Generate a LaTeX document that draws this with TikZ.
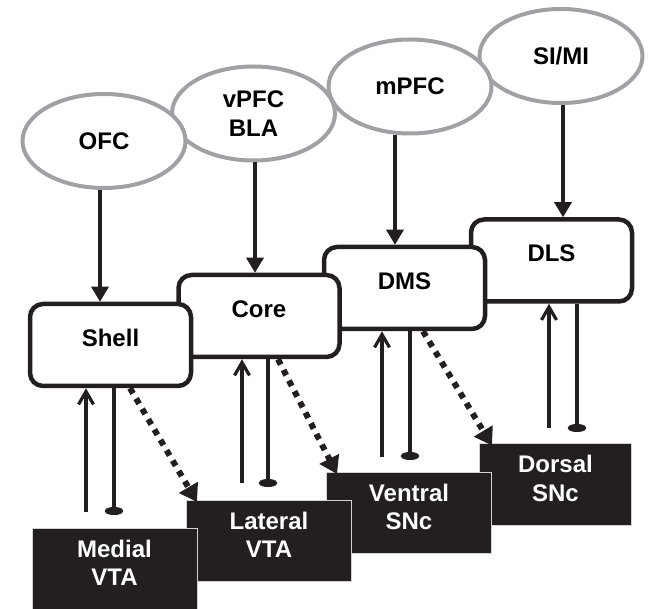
\documentclass[tikz,border=0pt]{standalone}
\usepackage{fontspec}
\setmainfont{Liberation Sans}
\usetikzlibrary{arrows.meta,shapes.geometric}
\definecolor{ovalgray}{RGB}{160,161,164}
\definecolor{nucleus}{RGB}{35,31,32}

\begin{document}
\begin{tikzpicture}[x=1pt,y=-1pt,
  font=\fontsize{24}{28.5}\selectfont\bfseries,
  cortex/.style={ellipse, draw=ovalgray, line width=4pt, fill=white,
    minimum width=163pt, minimum height=94pt, inner sep=0pt, align=center},
  striatum/.style={rectangle, rounded corners=13pt, draw=nucleus, line width=4.5pt,
    fill=white, minimum width=161pt, minimum height=82pt, text depth=14pt},
  midbrain/.style={rectangle, draw=gray!35, line width=1pt, fill=nucleus,
    text=white, minimum width=165pt, minimum height=81pt, align=center, text depth=12pt},
  drive/.style={-{Triangle[width=17pt,length=15pt]}, line width=3.2pt, draw=nucleus},
  feedback/.style={-{Straight Barb[width=15pt,length=13pt]}, line width=3.2pt, draw=nucleus},
  inhib/.style={-{Ellipse[width=18pt,length=8pt]}, line width=3.2pt, draw=nucleus},
  spiral/.style={-{Triangle[width=21pt,length=17pt]}, line width=6pt, draw=nucleus,
    dash pattern=on 6pt off 6pt}]
\useasboundingbox (0,0) rectangle (651,609);

% Cortex
\node[cortex] (simi) at (561,56) {SI/MI};
\node[cortex] (mpfc) at (410,86.5) {mPFC};
\node[cortex] (vpfc) at (253.5,113.5) {vPFC\\BLA};
\node[cortex] (ofc) at (104,141) {OFC};

% Striatum
\node[striatum] (dls) at (551.5,260.5) {DLS};
\node[striatum] (dms) at (404.5,288) {DMS};
\node[striatum] (core) at (259,316) {Core};
\node[striatum] (shell) at (110.5,345) {Shell};

% Midbrain
\node[midbrain, minimum width=152pt] (dsnc) at (555.5,484.5) {Dorsal\\SNc};
\node[midbrain] (vsnc) at (409,513) {Ventral\\SNc};
\node[midbrain] (lvta) at (269,541) {Lateral\\VTA};
\node[midbrain] (mvta) at (114.5,569) {Medial\\VTA};

% Cortex to striatum
\draw[drive] ([xshift=-4pt]ofc.south) -- ([xshift=-4pt]ofc.south |- shell.north);
\draw[drive] ([xshift=1.5pt]vpfc.south) -- ([xshift=1.5pt]vpfc.south |- core.north);
\draw[drive] ([xshift=-15pt]mpfc.south) -- ([xshift=-15pt]mpfc.south |- dms.north);
\draw[drive] ([xshift=2pt]simi.south) -- ([xshift=2pt]simi.south |- dls.north);

% Midbrain and striatum
\coordinate (shellUp) at (86,512);
\coordinate (shellInh) at (114,515);
\coordinate (coreUp) at (242,483);
\coordinate (coreInh) at (268,487);
\coordinate (dmsUp) at (382,457);
\coordinate (dmsInh) at (410,460);
\coordinate (dlsUp) at (549,428);
\coordinate (dlsInh) at (577,432);

\draw[feedback] (shellUp) -- (shellUp |- shell.south);
\draw[inhib] (shellInh |- shell.south) -- (shellInh);
\draw[feedback] (coreUp) -- (coreUp |- core.south);
\draw[inhib] (coreInh |- core.south) -- (coreInh);
\draw[feedback] (dmsUp) -- (dmsUp |- dms.south);
\draw[inhib] (dmsInh |- dms.south) -- (dmsInh);
\draw[feedback] (dlsUp) -- (dlsUp |- dls.south);
\draw[inhib] (dlsInh |- dls.south) -- (dlsInh);

% Spiral
\draw[spiral] ([xshift=19.5pt]shell.south) -- ([xshift=11pt,yshift=-2pt]lvta.north west);
\draw[spiral] ([xshift=19pt]core.south) -- ([xshift=11pt,yshift=-2pt]vsnc.north west);
\draw[spiral] ([xshift=18.5pt]dms.south) -- ([xshift=13pt,yshift=-2pt]dsnc.north west);
\end{tikzpicture}
\end{document}
